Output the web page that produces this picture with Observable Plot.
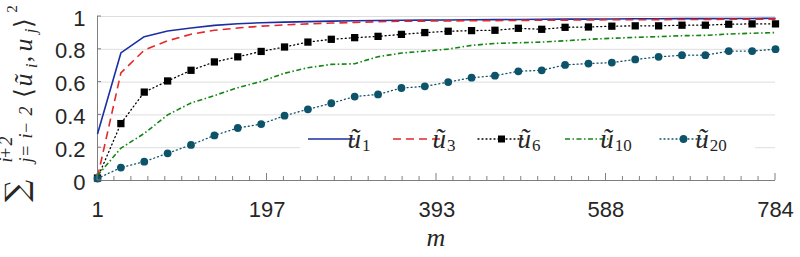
<!DOCTYPE html>
<html>
<head>
<meta charset="utf-8">
<script src="https://cdn.jsdelivr.net/npm/d3@7"></script>
<script src="https://cdn.jsdelivr.net/npm/@observablehq/plot@0.6"></script>
<style>
  html, body { margin: 0; padding: 0; background: #fff; }
  #chart svg { display: block; }
</style>
</head>
<body>
<div id="chart"></div>
<script>
// Sample sizes m at which the projection energy was evaluated
const m = [1, 28, 55, 82, 109, 136, 163, 190, 217, 244, 271, 298, 325, 352, 379,
           406, 433, 460, 487, 514, 541, 568, 595, 622, 649, 676, 703, 730, 757, 784];

// Captured energy of each basis vector ũ_i against its neighbours u_{i-2..i+2}
const u1  = [0.283, 0.778, 0.877, 0.912, 0.930, 0.946, 0.956, 0.962, 0.966, 0.969, 0.972, 0.974, 0.976, 0.977, 0.978,
             0.979, 0.980, 0.981, 0.982, 0.983, 0.984, 0.984, 0.985, 0.986, 0.986, 0.987, 0.987, 0.988, 0.988, 0.989];
const u3  = [0.020, 0.656, 0.795, 0.852, 0.892, 0.916, 0.930, 0.941, 0.949, 0.955, 0.960, 0.964, 0.968, 0.971, 0.972,
             0.973, 0.974, 0.975, 0.976, 0.977, 0.978, 0.979, 0.980, 0.980, 0.981, 0.982, 0.982, 0.983, 0.983, 0.984];
const u6  = [0.015, 0.347, 0.539, 0.607, 0.672, 0.723, 0.754, 0.787, 0.814, 0.844, 0.861, 0.871, 0.879, 0.891, 0.902,
             0.910, 0.914, 0.916, 0.928, 0.922, 0.934, 0.936, 0.941, 0.943, 0.943, 0.947, 0.947, 0.953, 0.955, 0.955];
const u10 = [0.030, 0.197, 0.287, 0.400, 0.473, 0.518, 0.566, 0.604, 0.654, 0.688, 0.708, 0.712, 0.755, 0.777, 0.789,
             0.801, 0.824, 0.836, 0.840, 0.844, 0.852, 0.861, 0.867, 0.873, 0.877, 0.883, 0.885, 0.893, 0.898, 0.902];
const u20 = [0.012, 0.079, 0.115, 0.166, 0.217, 0.275, 0.320, 0.344, 0.395, 0.434, 0.471, 0.512, 0.525, 0.564, 0.574,
             0.600, 0.627, 0.639, 0.666, 0.672, 0.705, 0.713, 0.719, 0.738, 0.754, 0.764, 0.764, 0.789, 0.789, 0.801];

// Series subscripts used in the legend
const seriesIndex = ["1", "3", "6", "10", "20"];

// Axis ticks
const xTicks = [1, 197, 393, 588, 784];
const yTicks = [0, 0.2, 0.4, 0.6, 0.8, 1];
const yTickLabels = ["0", "0.2", "0.4", "0.6", "0.8", "1"];

// Drawing styles per series
const styles = [
  {color: "#1b2fa3", dash: null,            width: 1.6, symbol: null},
  {color: "#e3292b", dash: "8,5",           width: 1.6, symbol: null},
  {color: "#000000", dash: "1,3",           width: 1.3, symbol: "square"},
  {color: "#138613", dash: "5,2.5,1.5,2.5", width: 1.6, symbol: null},
  {color: "#0d546b", dash: "1,3",           width: 1.3, symbol: "circle"}
];

const seriesValues = [u1, u3, u6, u10, u20];
const table = seriesValues.map(vals => m.map((x, i) => ({m: x, v: vals[i]})));

const axisGray = "#7f7f7f";
const textColor = "#262626";

const marks = [
  Plot.gridY(yTicks.slice(1), {stroke: "#dedede", strokeOpacity: 1, strokeWidth: 1}),
  Plot.ruleY([0], {stroke: axisGray}),
  Plot.ruleX([m[0]], {stroke: axisGray}),
  Plot.axisY(yTicks, {tickSize: 0, tickPadding: 12, dy: 2,
    tickFormat: d => yTickLabels[yTicks.indexOf(d)], label: null}),
  Plot.axisX(xTicks, {tickSize: 0, tickPadding: 21, tickFormat: d => String(d), label: null})
];

table.forEach((rows, i) => {
  const s = styles[i];
  marks.push(Plot.line(rows, {x: "m", y: "v", stroke: s.color, strokeWidth: s.width,
    strokeDasharray: s.dash, strokeLinecap: s.dash === "1,3" ? "round" : "butt"}));
  if (s.symbol) {
    marks.push(Plot.dot(rows, {x: "m", y: "v", symbol: s.symbol, r: s.symbol === "square" ? 4.1 : 3.9,
      fill: s.color, stroke: "none"}));
  }
});

const plot = Plot.plot({
  width: 800,
  height: 257,
  marginLeft: 97,
  marginRight: 25,
  marginTop: 16,
  marginBottom: 77,
  x: {domain: [1, 784]},
  y: {domain: [0, 1]},
  style: {fontFamily: "'Liberation Sans', Arial, Helvetica, sans-serif", fontSize: "22px",
          color: textColor, background: "#fff", overflow: "visible"},
  marks
});

document.getElementById("chart").appendChild(plot);

// Decorations placed through the plot's own scales
const sx = plot.scale("x"), sy = plot.scale("y");
const svg = d3.select(plot);
const x0 = sx.apply(1), x1 = sx.apply(784), yBase = sy.apply(0);

// Inward tick marks: major/minor on the bottom axis, short ones on the left axis
const ticks = svg.append("g").attr("stroke", axisGray).attr("stroke-width", 1);
const minorStep = (784 - 1) / 40;
d3.range(41).forEach(k => {
  const px = sx.apply(1 + k * minorStep);
  const len = k % 10 === 0 ? 7 : 4;
  ticks.append("line").attr("x1", px).attr("x2", px).attr("y1", yBase).attr("y2", yBase - len);
});
yTicks.forEach(t => {
  const py = sy.apply(t);
  ticks.append("line").attr("x1", x0).attr("x2", x0 + 4).attr("y1", py).attr("y2", py);
});

// x-axis title
const serif = "'Liberation Serif', 'DejaVu Serif', serif";
svg.append("text")
  .attr("x", (x0 + x1) / 2).attr("y", 246)
  .attr("text-anchor", "middle")
  .attr("font-family", serif)
  .attr("font-style", "italic").attr("font-size", 26).attr("fill", textColor)
  .text("m");

// y-axis title: Σ_{j=i−2}^{i+2} ⟨ũ_i, u_j⟩², read bottom to top
const yl = svg.append("g").attr("transform", "translate(32,197) rotate(-90)");
function piece(txt, x, y, size, opts = {}) {
  const g = yl.append("g").attr("transform", `translate(${x},${y})`);
  const t = g.append("text").attr("x", 0).attr("y", 0)
    .attr("font-family", opts.family || serif).attr("font-size", size).attr("fill", textColor)
    .attr("font-style", opts.italic ? "italic" : "normal");
  if (opts.gap) {
    // wide script spacing: place each character explicitly
    let cx = 0;
    [...txt].forEach(ch => {
      t.append("tspan").attr("x", cx).text(ch);
      cx += opts.gap[ch];
    });
  } else {
    t.text(txt);
  }
  return t;
}
piece("∑", 6, -5.5, 31, {family: "'DejaVu Serif', serif"});
piece("i+2", 37, -20, 18, {italic: true, gap: {"i": 7, "+": 12, "2": 9}});
piece("j=i−2", 37, 0, 18, {italic: true, gap: {"j": 9, "=": 15, "i": 8, "−": 17, "2": 9}});
piece("⟨", 104, 0, 25, {family: "'DejaVu Serif', serif"});
piece("ũ", 117, 0, 26, {italic: true});
piece("i", 131, 5, 17, {italic: true});
piece(",", 138, -1, 26);
piece("u", 152, 0, 26, {italic: true});
piece("j", 166, 4, 17, {italic: true});
piece("⟩", 174, 0, 25, {family: "'DejaVu Serif', serif"});
piece("2", 188, -15, 15);

// Legend inside the plot area
const legendY = 139;
const itemStart = [308, 393, 478, 565, 660];
const sampleLen = 47;
const legend = svg.append("g");
legend.append("rect").attr("fill", "#fff").attr("x", 300).attr("y", 122).attr("width", 455).attr("height", 38);
seriesIndex.forEach((idx, i) => {
  const s = styles[i];
  const cx = itemStart[i];
  legend.append("line")
    .attr("x1", cx).attr("x2", cx + sampleLen).attr("y1", legendY).attr("y2", legendY)
    .attr("stroke", s.color).attr("stroke-width", s.width)
    .attr("stroke-dasharray", s.dash)
    .attr("stroke-linecap", s.dash === "1,3" ? "round" : "butt");
  const mx = cx + sampleLen / 2;
  if (s.symbol === "square") {
    legend.append("rect").attr("x", mx - 3.5).attr("y", legendY - 3.5)
      .attr("width", 7).attr("height", 7).attr("fill", s.color);
  } else if (s.symbol === "circle") {
    legend.append("circle").attr("cx", mx).attr("cy", legendY).attr("r", 3.9).attr("fill", s.color);
  }
  const t = legend.append("text")
    .attr("x", cx + sampleLen + 4).attr("y", legendY + 9)
    .attr("font-family", serif).attr("font-size", 27).attr("fill", textColor);
  t.append("tspan").attr("font-style", "italic").text("ũ");
  t.append("tspan").attr("font-size", 17).attr("dy", 3).attr("dx", 1).text(idx);
});
</script>
</body>
</html>
